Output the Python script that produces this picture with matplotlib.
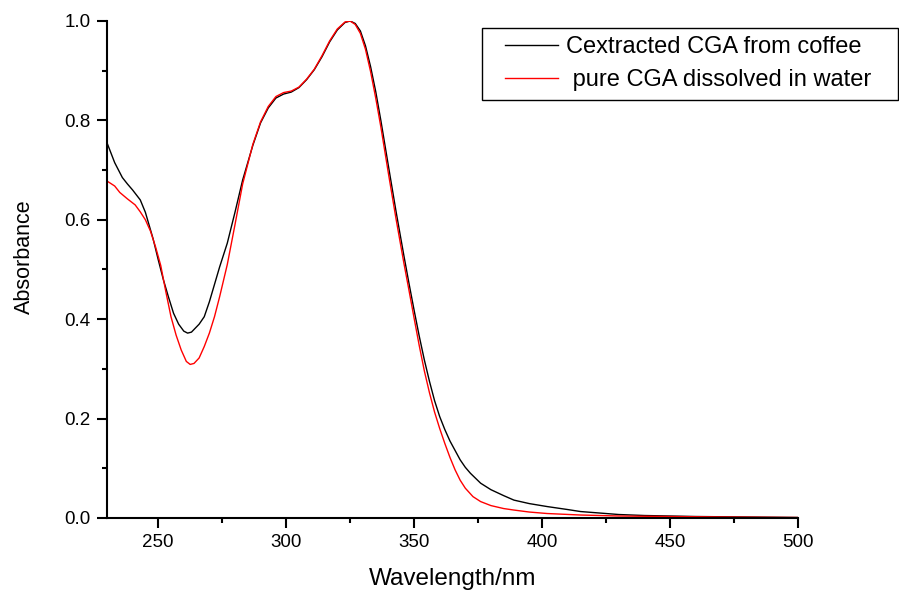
import matplotlib
matplotlib.use("Agg")
import matplotlib.pyplot as plt
from matplotlib.ticker import MultipleLocator, FormatStrFormatter
from matplotlib.patches import Rectangle

plt.rcParams['font.family'] = ['Liberation Sans', 'DejaVu Sans']

wl_black = [230, 233, 236, 238, 240, 243, 245, 248, 250, 252, 254, 256, 258, 260, 261.5, 263,
            266, 268, 270, 272, 274, 277, 280, 283, 287, 290, 293, 296, 299, 302, 305, 308,
            311, 314, 317, 320, 323, 325, 327, 329, 331, 333, 335, 337, 340, 343, 346, 348,
            350, 352, 354, 356, 358, 360, 362, 364, 366, 368, 370, 372, 376, 380, 385, 389,
            395, 402, 410, 415, 420, 430, 440, 450, 460, 480, 500]
abs_black = [0.755, 0.715, 0.685, 0.672, 0.660, 0.640, 0.615, 0.562, 0.520, 0.480, 0.445, 0.412,
             0.390, 0.376, 0.372, 0.374, 0.390, 0.405, 0.435, 0.470, 0.505, 0.553, 0.615, 0.680,
             0.750, 0.795, 0.825, 0.845, 0.853, 0.857, 0.866, 0.882, 0.902, 0.928, 0.958, 0.982,
             0.997, 1.000, 0.995, 0.980, 0.950, 0.908, 0.858, 0.800, 0.707, 0.615, 0.528, 0.472,
             0.418, 0.366, 0.318, 0.275, 0.236, 0.204, 0.178, 0.155, 0.136, 0.117, 0.102, 0.090,
             0.070, 0.057, 0.045, 0.036, 0.029, 0.023, 0.017, 0.013, 0.011, 0.007, 0.005, 0.004,
             0.003, 0.002, 0.001]

wl_red = [230, 233, 235, 238, 241, 243, 245, 247, 249, 251, 253, 255, 257, 259, 261, 262.5, 264,
          266, 268, 270, 272, 274, 277, 280, 283, 287, 290, 293, 296, 299, 302, 305, 308, 311,
          314, 317, 320, 323, 325, 327, 329, 331, 333, 335, 337, 340, 343, 346, 348, 350, 352,
          354, 356, 358, 360, 362, 364, 366, 368, 370, 373, 376, 380, 385, 389, 395, 402, 415,
          430, 450, 470, 500]
abs_red = [0.678, 0.668, 0.655, 0.642, 0.630, 0.616, 0.600, 0.577, 0.545, 0.508, 0.455, 0.405,
           0.368, 0.338, 0.315, 0.309, 0.311, 0.322, 0.345, 0.372, 0.405, 0.445, 0.510, 0.590,
           0.672, 0.752, 0.797, 0.828, 0.848, 0.856, 0.859, 0.867, 0.883, 0.903, 0.930, 0.960,
           0.984, 0.998, 1.000, 0.993, 0.975, 0.943, 0.898, 0.845, 0.787, 0.692, 0.600, 0.513,
           0.458, 0.402, 0.347, 0.296, 0.252, 0.213, 0.180, 0.150, 0.122, 0.097, 0.076, 0.060,
           0.043, 0.033, 0.025, 0.019, 0.016, 0.012, 0.009, 0.006, 0.004, 0.003, 0.002, 0.001]

label_black = "Cextracted CGA from coffee"
label_red = " pure CGA dissolved in water"

W, H = 899, 590
fig = plt.figure(figsize=(W / 100, H / 100), dpi=100)
ax = fig.add_axes([107 / W, 72 / H, (798 - 107) / W, (518 - 21) / H])

ax.plot(wl_black, abs_black, color='black', lw=1.0, label=label_black)
ax.plot(wl_red, abs_red, color='red', lw=1.0, label=label_red)

ax.set_xlim(230, 500)
ax.set_ylim(0, 1.0)
ax.xaxis.set_major_locator(MultipleLocator(50))
ax.xaxis.set_minor_locator(MultipleLocator(25))
ax.yaxis.set_major_locator(MultipleLocator(0.2))
ax.yaxis.set_minor_locator(MultipleLocator(0.1))
ax.yaxis.set_major_formatter(FormatStrFormatter('%.1f'))

for s in ['top', 'right']:
    ax.spines[s].set_visible(False)
for s in ['left', 'bottom']:
    ax.spines[s].set_linewidth(1.5)

ax.tick_params(which='major', direction='out', length=7.2, width=1.5, labelsize=13.5, pad=4.5)
ax.tick_params(which='minor', direction='out', length=3.6, width=1.5)

ax.set_xlabel('Wavelength/nm', fontsize=17.5)
ax.set_ylabel('Absorbance', fontsize=15.5)
ax.xaxis.set_label_coords(0.5, (518 - 568) / 497)
ax.yaxis.set_label_coords((35 - 107) / 691, (518 - 257) / 497)

leg = ax.legend(loc='upper left', bbox_to_anchor=(505 / W, (H - 36) / H), bbox_transform=fig.transFigure,
                fontsize=17, frameon=False, handlelength=2.25, handletextpad=0.34,
                borderpad=0, labelspacing=0.47, borderaxespad=0)
for h in leg.legend_handles:
    h.set_linewidth(1.0)

fig.patches.append(Rectangle((482 / W, (H - 100) / H), (898 - 482) / W, (100 - 28) / H,
                             transform=fig.transFigure, fill=False, edgecolor='black', lw=1.0))

fig.savefig('out.png', dpi=100)
